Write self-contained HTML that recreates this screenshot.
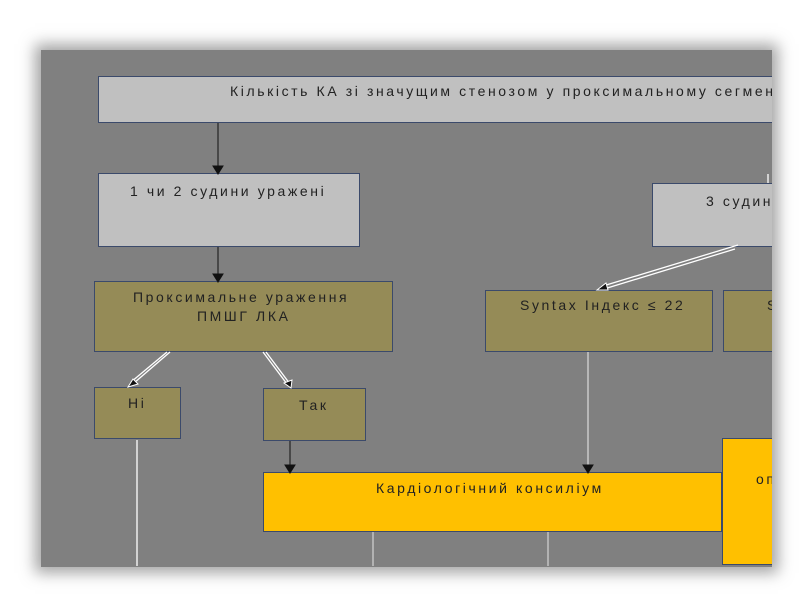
<!DOCTYPE html>
<html><head><meta charset="utf-8"><style>
body{margin:0;width:800px;height:600px;background:#fff;position:relative;overflow:hidden;font-family:"Liberation Sans","DejaVu Sans",sans-serif;}
#panel{position:absolute;left:41px;top:50px;width:731px;height:517px;background:#808080;box-shadow:0 0 14px 6px rgba(90,90,90,0.55);}
.b{position:absolute;box-sizing:border-box;border:1px solid #3b4a6b;font-size:14px;letter-spacing:2.6px;color:#222;line-height:16px;white-space:nowrap;overflow:hidden;}
.g{background:#c0c0c0;}
.o{background:#958b57;}
.y{background:#ffc000;}
.t{position:absolute;}
svg{position:absolute;left:0;top:0;}
</style></head><body>
<div id="panel"></div>
<div class="b g" style="left:98px;top:76px;width:674px;height:47px;border-right:none"><span class="t" style="left:131px;top:6px">Кількість КА зі значущим стенозом у проксимальному сегменті</span></div>
<div class="b g" style="left:98px;top:173px;width:262px;height:74px"><span class="t" style="left:31px;top:9px">1 чи 2 судини уражені</span></div>
<div class="b g" style="left:652px;top:183px;width:120px;height:64px;border-right:none"><span class="t" style="left:53px;top:9px">3 судини уражені</span></div>
<div class="b o" style="left:94px;top:281px;width:299px;height:71px"><span class="t" style="left:38px;top:7px">Проксимальне ураження</span><span class="t" style="left:102px;top:26px">ПМШГ ЛКА</span></div>
<div class="b o" style="left:485px;top:290px;width:228px;height:62px"><span class="t" style="left:34px;top:6px">Syntax Індекс ≤ 22</span></div>
<div class="b o" style="left:723px;top:290px;width:49px;height:62px;border-right:none"><span class="t" style="left:43px;top:6px">Syntax</span></div>
<div class="b o" style="left:94px;top:387px;width:87px;height:52px"><span class="t" style="left:33px;top:7px">Ні</span></div>
<div class="b o" style="left:263px;top:388px;width:103px;height:53px"><span class="t" style="left:35px;top:8px">Так</span></div>
<div class="b y" style="left:263px;top:472px;width:459px;height:60px"><span class="t" style="left:112px;top:7px">Кардіологічний консиліум</span></div>
<div class="b y" style="left:722px;top:438px;width:50px;height:127px;border-right:none"><span class="t" style="left:33px;top:32px">операція</span></div>
<svg width="800" height="600">
<g stroke="#111" stroke-width="1" fill="#111">
<line x1="218" y1="123" x2="218" y2="166"/><polygon points="213,166 223,166 218,174"/>
<line x1="218" y1="247" x2="218" y2="274"/><polygon points="213,274 223,274 218,282"/>
<line x1="290" y1="441" x2="290" y2="465"/><polygon points="285,465 295,465 290,473"/>
<line x1="588" y1="352" x2="588" y2="465" stroke="#eee"/><polygon points="583,465 593,465 588,473"/>
</g>
<g stroke="#fff" stroke-width="1.3">
<line x1="137" y1="440" x2="137" y2="566"/>
<line x1="373" y1="532" x2="373" y2="566" stroke="#ccc"/>
<line x1="548" y1="532" x2="548" y2="566" stroke="#ccc"/>
<line x1="738" y1="245" x2="603" y2="286"/><line x1="735" y1="249" x2="604" y2="289"/>
<line x1="170" y1="352" x2="134" y2="383"/><line x1="167" y1="352" x2="131" y2="382"/>
<line x1="263" y1="352" x2="287" y2="384"/><line x1="266" y1="352" x2="290" y2="384"/>
<line x1="768" y1="174" x2="768" y2="183"/>
</g>
<g fill="#111" stroke="#fff" stroke-width="1">
<polygon points="597,290 606,283 608,290"/>
<polygon points="128,387 133,379 138,384"/>
<polygon points="291,388 284,383 292,380"/>
</g>
</svg>
</body></html>
